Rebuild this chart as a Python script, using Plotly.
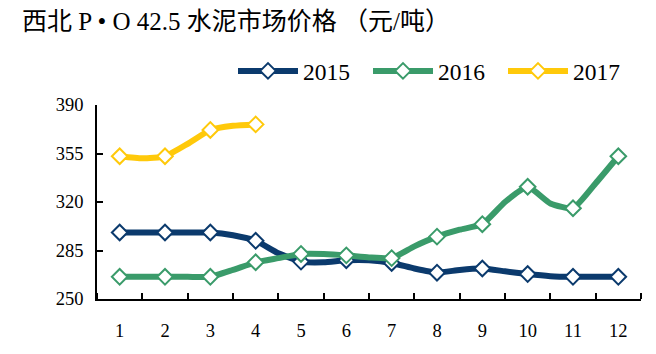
import plotly.graph_objects as go

months = [1, 1.5, 2, 2.5, 3, 3.5, 4, 4.5, 5, 5.5, 6, 6.5, 7, 7.5, 8, 8.5, 9, 9.5, 10, 10.5, 11, 11.5, 12]
tick_labels = [str(i) for i in range(1, 13)]

price_2015 = [298, 298, 298, 298, 298, 296, 292, 283, 277, 276.5, 278, 278, 276, 272, 269, 271, 272, 270, 268, 266.5, 266, 266, 266]
price_2016 = [266, 266, 266, 266, 266, 271, 276.5, 279.5, 282.5, 282.5, 281.5, 280, 279.5, 288, 295, 300, 304, 320, 331, 319, 315.5, 333.5, 353]
price_2017 = [353, 351.5, 353, 362, 372, 375, 376]

series = [
    ("2015", price_2015, "#0B3A6D"),
    ("2016", price_2016, "#3A9B6A"),
    ("2017", price_2017, "#FFC90A"),
]

FONT = "Liberation Serif, Noto Sans CJK SC, serif"
title_text = "西北 P • O 42.5 水泥市场价格 （元/吨）"

fig = go.Figure()
for name, vals, color in series:
    xs = months[:len(vals)]
    fig.add_trace(go.Scatter(
        x=xs, y=vals, name=name, mode="lines", legendgroup=name, showlegend=False,
        line=dict(color=color, width=6, shape="spline", smoothing=0.5),
        hoverinfo="skip",
    ))
    mx = [x for x in xs if float(x).is_integer()]
    my = [v for x, v in zip(xs, vals) if float(x).is_integer()]
    fig.add_trace(go.Scatter(
        x=mx, y=my, name=name, mode="markers", legendgroup=name, showlegend=False,
        marker=dict(symbol="diamond", size=12, color="white", line=dict(color=color, width=2)),
    ))
    fig.add_trace(go.Scatter(
        x=[None], y=[None], name=name, mode="lines+markers", legendgroup=name,
        line=dict(color=color, width=6),
        marker=dict(symbol="diamond", size=12, color="white", line=dict(color=color, width=2)),
    ))

fig.update_layout(
    width=656, height=354,
    margin=dict(l=97, r=15, t=105, b=55),
    paper_bgcolor="white", plot_bgcolor="white",
    font=dict(family=FONT, size=18.5, color="black"),
    title=dict(text=title_text, xref="container", yref="container",
               x=22/656, y=1-21/354, xanchor="left", yanchor="middle",
               font=dict(family=FONT, size=25, color="black")),
    legend=dict(orientation="h", x=(233-97)/544, xanchor="left", y=1 + (105-71)/194.6, yanchor="middle",
                font=dict(family=FONT, size=23.5), itemwidth=60, entrywidth=60, entrywidthmode="pixels",
                bgcolor="rgba(0,0,0,0)"),
    showlegend=True,
)

fig.update_xaxes(
    range=[0.5, 12.5], tickmode="array", tickvals=list(range(1, 13)), ticktext=tick_labels,
    ticks="", showline=True, linecolor="black", linewidth=1.5, showgrid=False, zeroline=False,
    ticklabelstandoff=14,
    minor=dict(tickmode="array", tickvals=[i + 0.5 for i in range(0, 13)], ticks="inside",
               ticklen=6, tickcolor="black", tickwidth=1.5, showgrid=False),
)
fig.update_yaxes(
    range=[250, 390], tickmode="array", tickvals=[250, 285, 320, 355, 390],
    ticks="inside", ticklen=6, tickcolor="black", tickwidth=1.5,
    showline=True, linecolor="black", linewidth=1.5, showgrid=False, zeroline=False,
    ticklabelstandoff=8,
)

fig.write_html("out.html")
